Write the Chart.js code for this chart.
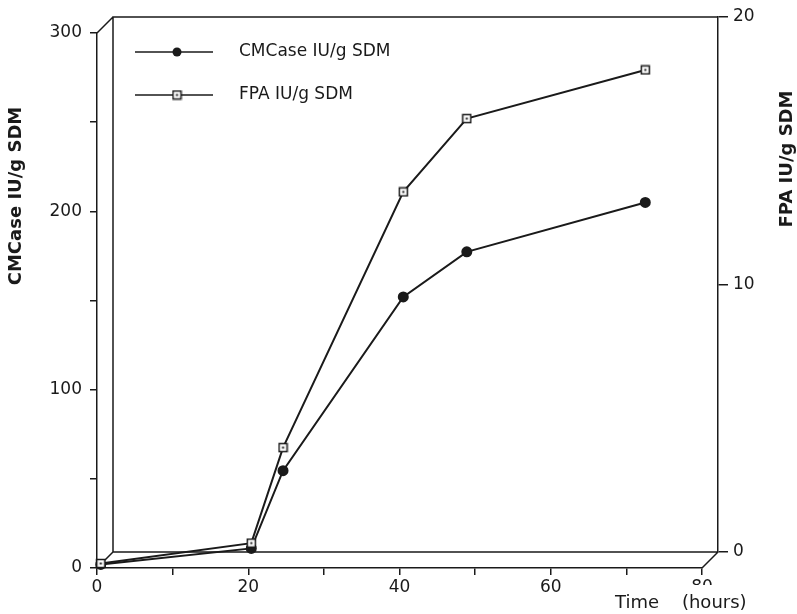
<!DOCTYPE html>
<html>
<head>
<meta charset="utf-8">
<script src="https://cdn.jsdelivr.net/npm/chart.js@4/dist/chart.umd.min.js"></script>
<style>
  html, body { margin: 0; padding: 0; background: #fff; }
  canvas { display: block; }
</style>
</head>
<body>
<canvas id="chart" width="797" height="614"></canvas>
<script>
// time points (hours) and the two series
const hours = [0.5, 20.4, 24.6, 40.5, 48.9, 72.5];
const cmcase = [2, 11, 54.6, 152, 177.3, 205];      // IU/g SDM, left axis
const fpa = [0.17, 0.93, 4.5, 14.06, 16.8, 18.62];  // IU/g SDM, right axis

const xTicks = [0, 20, 40, 60, 80];
const yTicks = [0, 100, 200, 300];
const y1Ticks = [0, 10, 20];

const INK = '#1a1a1a';
const FONT = 'DejaVu Sans';
const DX = 16, DY = -16; // depth offset of the back plane

// open square with a dot in the middle
function squareMarker() {
  const c = document.createElement('canvas');
  c.width = 11; c.height = 11;
  const g = c.getContext('2d');
  g.fillStyle = '#fff';
  g.fillRect(1, 1, 9, 9);
  g.strokeStyle = INK;
  g.lineWidth = 1.5;
  g.strokeRect(1.5, 1.5, 8, 8);
  g.fillStyle = INK;
  g.fillRect(4.5, 4.5, 2, 2);
  return c;
}
const sq = squareMarker();

const frame = {
  id: 'frame',
  beforeDatasetsDraw(chart) {
    const { ctx, chartArea: a } = chart;
    ctx.save();
    ctx.strokeStyle = INK;
    ctx.lineWidth = 1.5;
    ctx.beginPath();
    ctx.moveTo(a.left, a.bottom);
    ctx.lineTo(a.left + DX, a.bottom + DY);
    ctx.lineTo(a.right + DX, a.bottom + DY);
    ctx.moveTo(a.right, a.bottom);
    ctx.lineTo(a.right + DX, a.bottom + DY);
    ctx.moveTo(a.left + DX, a.bottom + DY);
    ctx.lineTo(a.left + DX, a.top + DY);
    ctx.lineTo(a.right + DX, a.top + DY);
    ctx.moveTo(a.left, a.top);
    ctx.lineTo(a.left + DX, a.top + DY);
    ctx.stroke();
    ctx.restore();
  },
  afterDraw(chart) {
    const { ctx, chartArea: a } = chart;
    ctx.save();
    ctx.fillStyle = INK;
    ctx.strokeStyle = INK;

    // legend
    const rows = [
      { y: a.top + 19, label: 'CMCase IU/g SDM', dot: true },
      { y: a.top + 62, label: 'FPA IU/g SDM', dot: false }
    ];
    ctx.lineWidth = 1.5;
    ctx.font = '17px ' + FONT;
    ctx.textBaseline = 'middle';
    ctx.textAlign = 'left';
    rows.forEach((r) => {
      ctx.beginPath();
      ctx.moveTo(a.left + 38, r.y);
      ctx.lineTo(a.left + 116, r.y);
      ctx.stroke();
      if (r.dot) {
        ctx.beginPath();
        ctx.arc(a.left + 80, r.y, 4.5, 0, Math.PI * 2);
        ctx.fill();
      } else {
        ctx.drawImage(sq, a.left + 80 - 5.5, r.y - 5.5);
      }
      ctx.fillText(r.label, a.left + 142, r.y);
    });

    // x axis title, white box hides most of the "80"
    ctx.fillStyle = '#fff';
    ctx.fillRect(608, 585, 150, 29);
    ctx.fillStyle = INK;
    ctx.font = '18px ' + FONT;
    ctx.fillText('Time    (hours)', 615, 603);

    // rotated axis titles
    ctx.font = 'bold 18px ' + FONT;
    ctx.textAlign = 'center';
    ctx.save();
    ctx.translate(16, 196);
    ctx.rotate(-Math.PI / 2);
    ctx.fillText('CMCase IU/g SDM', 0, 0);
    ctx.restore();
    ctx.save();
    ctx.translate(787, 159);
    ctx.rotate(-Math.PI / 2);
    ctx.fillText('FPA IU/g SDM', 0, 0);
    ctx.restore();

    ctx.restore();
  }
};

const axisGrid = (len) => ({
  drawOnChartArea: false,
  drawTicks: true,
  tickLength: len,
  color: INK,
  lineWidth: 1.5
});

new Chart(document.getElementById('chart'), {
  type: 'line',
  data: {
    datasets: [
      {
        label: 'FPA IU/g SDM',
        yAxisID: 'y1',
        data: hours.map((h, i) => ({ x: h, y: fpa[i] })),
        borderColor: INK,
        borderWidth: 2,
        pointStyle: sq,
        pointRadius: 5.5,
        tension: 0,
        clip: false
      },
      {
        label: 'CMCase IU/g SDM',
        yAxisID: 'y',
        data: hours.map((h, i) => ({ x: h, y: cmcase[i] })),
        borderColor: INK,
        backgroundColor: INK,
        borderWidth: 2,
        pointStyle: 'circle',
        pointRadius: 4.5,
        tension: 0,
        clip: false
      }
    ]
  },
  options: {
    responsive: false,
    animation: false,
    devicePixelRatio: 1,
    layout: { padding: { top: 33, left: 0, right: 0, bottom: 0 } },
    plugins: {
      legend: { display: false },
      tooltip: { enabled: false }
    },
    scales: {
      x: {
        type: 'linear',
        min: 0,
        max: 80,
        afterFit: (s) => { s.height = 46; },
        ticks: {
          stepSize: 10,
          autoSkip: false,
          maxRotation: 0,
          padding: 2,
          color: INK,
          font: { family: FONT, size: 17 },
          callback: (v) => (xTicks.includes(v) ? v : '')
        },
        grid: axisGrid(7),
        border: { color: INK, width: 1.5 }
      },
      y: {
        position: 'left',
        min: 0,
        max: 300,
        afterFit: (s) => { s.width = 97; },
        ticks: {
          stepSize: 50,
          padding: 8,
          color: INK,
          font: { family: FONT, size: 17 },
          callback: (v) => (yTicks.includes(v) ? v : '')
        },
        grid: axisGrid(7),
        border: { color: INK, width: 1.5 }
      },
      y1: {
        position: 'right',
        min: 0,
        max: 20,
        afterFit: (s) => {
          s.width = 95;
          if (!s._shifted) {
            // the right axis sits on the back plane
            const base = Object.getPrototypeOf(s).draw;
            s.draw = function (area) {
              const c = this.ctx;
              c.save();
              c.translate(DX, DY);
              base.call(this, area);
              c.restore();
            };
            s._shifted = true;
          }
        },
        ticks: {
          stepSize: 10,
          padding: 5,
          color: INK,
          font: { family: FONT, size: 17 },
          callback: (v) => (y1Ticks.includes(v) ? v : '')
        },
        grid: axisGrid(10),
        border: { color: INK, width: 1.5 }
      }
    }
  },
  plugins: [frame]
});
</script>
</body>
</html>
